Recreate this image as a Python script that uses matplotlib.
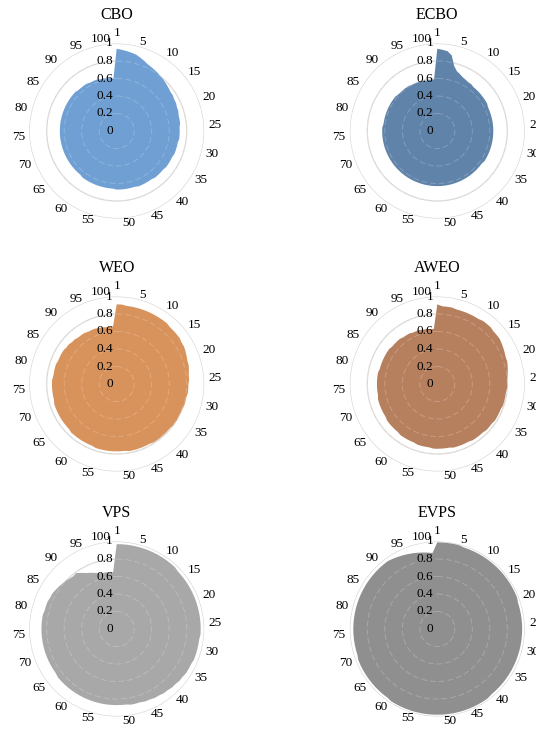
import numpy as np
import matplotlib
matplotlib.use("Agg")
import matplotlib.pyplot as plt
import matplotlib.transforms as mtransforms

plt.rcParams['font.family'] = ['Liberation Serif', 'DejaVu Serif']

# ---- data (categories 1..100) ----
categories = list(range(1, 101))
label_cats = [1] + list(range(5, 101, 5))
radial_ticks = [0, 0.2, 0.4, 0.6, 0.8, 1]

names = ['CBO', 'ECBO', 'WEO', 'AWEO', 'VPS', 'EVPS']
colors = ['#6f9fd3', '#6083a9', '#d8925b', '#b6805f', '#a8a8a8', '#8f8f8f']

cbo = [0.94, 0.93, 0.92, 0.91, 0.90, 0.88, 0.86, 0.84, 0.83, 0.82,
       0.81, 0.80, 0.79, 0.78, 0.77, 0.76, 0.76, 0.75, 0.75, 0.74,
       0.74, 0.73, 0.73, 0.73, 0.72, 0.72, 0.72, 0.72, 0.71, 0.71,
       0.71, 0.71, 0.70, 0.70, 0.70, 0.70, 0.69, 0.69, 0.69, 0.69,
       0.68, 0.68, 0.68, 0.68, 0.68, 0.67, 0.67, 0.67, 0.67, 0.67,
       0.67, 0.66, 0.66, 0.66, 0.66, 0.66, 0.66, 0.66, 0.66, 0.66,
       0.66, 0.65, 0.65, 0.65, 0.65, 0.65, 0.65, 0.65, 0.65, 0.65,
       0.65, 0.65, 0.65, 0.65, 0.65, 0.65, 0.65, 0.65, 0.65, 0.65,
       0.65, 0.65, 0.65, 0.65, 0.65, 0.65, 0.65, 0.65, 0.64, 0.64,
       0.64, 0.64, 0.63, 0.63, 0.63, 0.62, 0.62, 0.61, 0.61, 0.60]

ecbo = [0.94, 0.93, 0.92, 0.88, 0.77, 0.72, 0.70, 0.68, 0.67, 0.66,
        0.66, 0.65, 0.65, 0.65, 0.65, 0.65, 0.65, 0.65, 0.64, 0.64,
        0.64, 0.64, 0.64, 0.64, 0.64, 0.64, 0.64, 0.64, 0.64, 0.64,
        0.64, 0.64, 0.64, 0.64, 0.64, 0.63, 0.63, 0.63, 0.63, 0.63,
        0.63, 0.63, 0.63, 0.63, 0.63, 0.63, 0.63, 0.63, 0.63, 0.63,
        0.63, 0.63, 0.63, 0.63, 0.63, 0.63, 0.63, 0.63, 0.63, 0.63,
        0.63, 0.63, 0.63, 0.63, 0.63, 0.63, 0.63, 0.63, 0.63, 0.63,
        0.63, 0.63, 0.63, 0.63, 0.63, 0.63, 0.63, 0.62, 0.62, 0.62,
        0.62, 0.62, 0.62, 0.62, 0.62, 0.62, 0.62, 0.61, 0.61, 0.61,
        0.61, 0.61, 0.60, 0.60, 0.60, 0.60, 0.59, 0.59, 0.59, 0.59]

weo = [0.91, 0.91, 0.90, 0.90, 0.90, 0.90, 0.90, 0.90, 0.90, 0.90,
       0.90, 0.90, 0.89, 0.89, 0.89, 0.89, 0.88, 0.88, 0.87, 0.86,
       0.85, 0.85, 0.84, 0.83, 0.83, 0.82, 0.82, 0.82, 0.81, 0.81,
       0.81, 0.80, 0.80, 0.80, 0.80, 0.80, 0.79, 0.79, 0.79, 0.79,
       0.79, 0.79, 0.78, 0.78, 0.78, 0.78, 0.78, 0.78, 0.77, 0.77,
       0.77, 0.77, 0.77, 0.77, 0.77, 0.77, 0.76, 0.76, 0.76, 0.76,
       0.76, 0.76, 0.76, 0.75, 0.75, 0.75, 0.75, 0.75, 0.75, 0.75,
       0.75, 0.74, 0.74, 0.74, 0.74, 0.74, 0.74, 0.73, 0.73, 0.73,
       0.73, 0.72, 0.72, 0.72, 0.72, 0.71, 0.71, 0.70, 0.70, 0.69,
       0.69, 0.69, 0.68, 0.68, 0.68, 0.67, 0.67, 0.66, 0.66, 0.66]

aweo = [0.91, 0.89, 0.89, 0.89, 0.88, 0.88, 0.88, 0.88, 0.88, 0.88,
        0.89, 0.89, 0.89, 0.88, 0.88, 0.88, 0.87, 0.86, 0.85, 0.84,
        0.84, 0.83, 0.82, 0.81, 0.80, 0.80, 0.80, 0.79, 0.79, 0.79,
        0.79, 0.78, 0.78, 0.78, 0.78, 0.77, 0.77, 0.77, 0.76, 0.76,
        0.76, 0.76, 0.75, 0.75, 0.75, 0.75, 0.75, 0.74, 0.74, 0.74,
        0.74, 0.74, 0.73, 0.73, 0.73, 0.73, 0.72, 0.72, 0.72, 0.72,
        0.72, 0.71, 0.71, 0.71, 0.71, 0.71, 0.70, 0.70, 0.70, 0.70,
        0.70, 0.70, 0.69, 0.69, 0.69, 0.69, 0.69, 0.69, 0.69, 0.68,
        0.68, 0.68, 0.68, 0.68, 0.68, 0.68, 0.67, 0.67, 0.67, 0.67,
        0.66, 0.66, 0.66, 0.65, 0.65, 0.65, 0.64, 0.64, 0.63, 0.63]

vps = [0.97, 0.97, 0.97, 0.97, 0.97, 0.97, 0.97, 0.97, 0.97, 0.97,
       0.97, 0.97, 0.97, 0.96, 0.96, 0.96, 0.96, 0.96, 0.96, 0.96,
       0.96, 0.96, 0.96, 0.96, 0.96, 0.96, 0.96, 0.95, 0.95, 0.95,
       0.95, 0.95, 0.94, 0.94, 0.94, 0.93, 0.93, 0.92, 0.92, 0.91,
       0.91, 0.90, 0.90, 0.89, 0.89, 0.88, 0.88, 0.88, 0.87, 0.87,
       0.87, 0.87, 0.87, 0.87, 0.87, 0.87, 0.87, 0.87, 0.87, 0.87,
       0.87, 0.87, 0.87, 0.87, 0.87, 0.86, 0.86, 0.86, 0.86, 0.86,
       0.86, 0.86, 0.86, 0.86, 0.86, 0.86, 0.86, 0.86, 0.86, 0.85,
       0.85, 0.85, 0.84, 0.84, 0.83, 0.82, 0.81, 0.80, 0.79, 0.78,
       0.79, 0.76, 0.73, 0.71, 0.69, 0.67, 0.66, 0.66, 0.65, 0.65]

evps = [0.99, 0.99, 0.99, 0.99, 0.99, 0.98, 0.98, 0.98, 0.98, 0.98,
        0.98, 0.98, 0.98, 0.98, 0.98, 0.98, 0.98, 0.98, 0.98, 0.98,
        0.97, 0.97, 0.97, 0.97, 0.97, 0.97, 0.97, 0.97, 0.97, 0.97,
        0.97, 0.97, 0.97, 0.97, 0.97, 0.97, 0.97, 0.97, 0.97, 0.97,
        0.98, 0.98, 0.98, 0.98, 0.98, 0.98, 0.98, 0.98, 0.98, 0.98,
        0.98, 0.98, 0.98, 0.98, 0.98, 0.98, 0.98, 0.98, 0.98, 0.98,
        0.97, 0.97, 0.97, 0.97, 0.97, 0.97, 0.97, 0.97, 0.97, 0.97,
        0.96, 0.96, 0.96, 0.96, 0.96, 0.96, 0.96, 0.96, 0.96, 0.96,
        0.96, 0.96, 0.96, 0.96, 0.96, 0.96, 0.96, 0.96, 0.96, 0.96,
        0.96, 0.95, 0.94, 0.93, 0.92, 0.91, 0.90, 0.89, 0.88, 0.87]

series = [cbo, ecbo, weo, aweo, vps, evps]

# ---- layout ----
W, H = 536, 730
fig = plt.figure(figsize=(W / 100, H / 100), dpi=100)
R = 87.5  # pixel radius of the r=1 circle
centers = [(116.7, 131), (437.3, 131), (116.7, 384), (437.3, 384),
           (116.7, 629), (437.3, 629)]

n = len(categories)
theta = np.array([(c - 1) * 2 * np.pi / n for c in categories])

for name, col, vals, (cx, cy) in zip(names, colors, series, centers):
    ax = fig.add_axes([(cx - R) / W, (H - cy - R) / H, 2 * R / W, 2 * R / H],
                      projection='polar')
    ax.set_theta_zero_location('N')
    ax.set_theta_direction(-1)
    ax.set_ylim(0, 1)
    ax.spines['polar'].set_visible(False)
    ax.set_xticks([])
    ax.set_yticks([])
    ax.xaxis.grid(False)
    ax.yaxis.grid(False)

    # gridline circles under the fill
    for r in radial_ticks[1:]:
        ax.axhline(r, color='#d9d6d2', lw=0.9, zorder=1)

    v = np.array(vals)
    ax.fill(np.append(theta, theta[0]), np.append(v, v[0]),
            color=col, lw=0, zorder=2)

    # faint dashed gridlines visible through the fill
    for r in radial_ticks[1:-1]:
        ax.axhline(r, color='white', lw=0.7, ls=(0, (6, 3)), alpha=0.22,
                   zorder=3)

    # category labels, anchored just outside the outer ring (Excel-like)
    for c in label_cats:
        t = (c - 1) * 2 * np.pi / n
        s = np.sin(t)
        if s > 0.01:
            ha = 'left'
        elif s < -0.01:
            ha = 'right'
        else:
            ha = 'center'
        va = 'bottom' if c == 1 else 'center'
        ax.text(t, 1.05, str(c), ha=ha, va=va, fontsize=9.5,
                clip_on=False, zorder=5)

    # radial value labels along the top spoke
    rad_tr = mtransforms.offset_copy(ax.transData, fig=fig, x=-4, y=0,
                                     units='dots')
    for r in radial_ticks:
        ax.text(0, r, '{:g}'.format(r), transform=rad_tr, ha='right',
                va='center', fontsize=9.5, clip_on=False, zorder=5)

    ax.text(0.5, 1.165, name, transform=ax.transAxes, ha='center',
            va='center', fontsize=11.5)

fig.savefig('out.png', dpi=100)
